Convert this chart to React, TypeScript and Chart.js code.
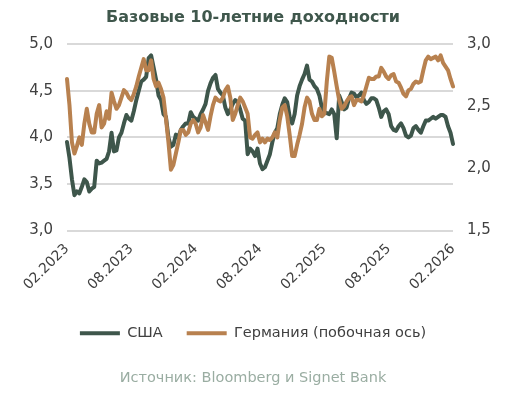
import { useEffect, useRef } from "react";
import { Chart, registerables } from "chart.js";

Chart.register(...registerables);

const xTickLabels = ["02.2023", "08.2023", "02.2024", "08.2024", "02.2025", "08.2025", "02.2026"];

const usYield = [
  3.95, 3.78, 3.55, 3.38, 3.42, 3.40, 3.47, 3.55, 3.52, 3.42,
  3.45, 3.47, 3.75, 3.72, 3.73, 3.75, 3.77, 3.85, 4.05, 3.85,
  3.86, 4.00, 4.05, 4.15, 4.24, 4.20, 4.18, 4.28, 4.40, 4.50,
  4.60, 4.62, 4.65, 4.85, 4.88, 4.75, 4.62, 4.45, 4.40, 4.25,
  4.22, 4.00, 3.90, 3.92, 4.03, 4.00, 4.08, 4.12, 4.15, 4.15,
  4.27, 4.22, 4.20, 4.18, 4.25, 4.30, 4.36, 4.50, 4.58, 4.64,
  4.67, 4.52, 4.48, 4.45, 4.32, 4.25, 4.30, 4.36, 4.40, 4.38,
  4.30, 4.20, 4.18, 3.82, 3.88, 3.85, 3.80, 3.88, 3.72, 3.66,
  3.68, 3.75, 3.82, 3.95, 4.05, 4.10, 4.25, 4.35, 4.42, 4.38,
  4.22, 4.15, 4.25, 4.45, 4.55, 4.62, 4.68, 4.77, 4.62, 4.60,
  4.55, 4.52, 4.45, 4.32, 4.27, 4.26, 4.25, 4.30, 4.25, 3.99,
  4.45, 4.38, 4.30, 4.32, 4.42, 4.48, 4.47, 4.43, 4.45, 4.48,
  4.40, 4.36, 4.38, 4.42, 4.42, 4.40, 4.32, 4.22, 4.28, 4.30,
  4.25, 4.12, 4.08, 4.07, 4.12, 4.15, 4.10, 4.02, 4.00, 4.02,
  4.10, 4.12, 4.08, 4.05, 4.12, 4.18, 4.18, 4.20, 4.22, 4.20,
  4.22, 4.24, 4.24, 4.22, 4.12, 4.05, 3.93,
];

const deYield = [
  2.72, 2.51, 2.21, 2.12, 2.18, 2.25, 2.19, 2.36, 2.48, 2.36,
  2.29, 2.29, 2.44, 2.51, 2.33, 2.36, 2.46, 2.40, 2.61, 2.54,
  2.48, 2.51, 2.57, 2.63, 2.61, 2.57, 2.55, 2.60, 2.66, 2.74,
  2.81, 2.88, 2.79, 2.79, 2.87, 2.72, 2.66, 2.69, 2.64, 2.57,
  2.40, 2.21, 1.99, 2.03, 2.12, 2.21, 2.31, 2.31, 2.27, 2.29,
  2.36, 2.39, 2.36, 2.29, 2.33, 2.43, 2.37, 2.31, 2.42, 2.51,
  2.57, 2.55, 2.54, 2.57, 2.63, 2.66, 2.57, 2.39, 2.44, 2.51,
  2.57, 2.54, 2.49, 2.44, 2.25, 2.24, 2.27, 2.29, 2.21, 2.24,
  2.21, 2.24, 2.23, 2.25, 2.29, 2.25, 2.39, 2.49, 2.51, 2.42,
  2.27, 2.10, 2.10, 2.19, 2.27, 2.36, 2.49, 2.57, 2.54, 2.44,
  2.39, 2.39, 2.48, 2.42, 2.44, 2.70, 2.90, 2.89, 2.78, 2.66,
  2.55, 2.48, 2.50, 2.54, 2.57, 2.58, 2.51, 2.55, 2.55, 2.54,
  2.59, 2.66, 2.73, 2.72, 2.72, 2.74, 2.74, 2.81, 2.78, 2.74,
  2.72, 2.75, 2.76, 2.70, 2.69, 2.65, 2.60, 2.58, 2.63, 2.64,
  2.68, 2.70, 2.69, 2.70, 2.79, 2.87, 2.90, 2.88, 2.89, 2.90,
  2.87, 2.91, 2.85, 2.82, 2.79, 2.72, 2.66,
];

const weekIndex = usYield.map((_, i) => String(i));
const WEEKS_PER_TICK = 26;

const US_COLOR = "#3e564b";
const DE_COLOR = "#b8814f";
const FONT = "'DejaVu Sans', sans-serif";

export default function App() {
  const canvasRef = useRef<HTMLCanvasElement | null>(null);

  useEffect(() => {
    if (!canvasRef.current) return;
    const fmt = (v: any) => Number(v).toFixed(1).replace(".", ",");
    const chart = new Chart(canvasRef.current, {
      type: "line",
      data: {
        labels: weekIndex,
        datasets: [
          {
            label: "США",
            data: usYield,
            borderColor: US_COLOR,
            backgroundColor: US_COLOR,
            borderWidth: 4,
            borderCapStyle: "round",
            borderJoinStyle: "round",
            pointRadius: 0,
            tension: 0,
            yAxisID: "y",
            order: 2,
          },
          {
            label: "Германия (побочная ось)",
            data: deYield,
            borderColor: DE_COLOR,
            backgroundColor: DE_COLOR,
            borderWidth: 4,
            borderCapStyle: "round",
            borderJoinStyle: "round",
            pointRadius: 0,
            tension: 0,
            yAxisID: "y1",
            order: 1,
          },
        ],
      },
      options: {
        animation: false,
        responsive: true,
        maintainAspectRatio: false,
        layout: { padding: 0 },
        plugins: {
          title: {
            display: true,
            text: "Базовые 10-летние доходности",
            color: "#3f574c",
            font: { family: FONT, size: 16, weight: "bold" },
            padding: { top: 8, bottom: 17 },
          },
          legend: {
            display: true,
            position: "bottom",
            reverse: true,
            labels: {
              usePointStyle: true,
              pointStyle: "line",
              pointStyleWidth: 40,
              boxWidth: 40,
              padding: 24,
              color: "#404040",
              font: { family: FONT, size: 14.5 },
            },
          },
          subtitle: {
            display: true,
            position: "bottom",
            text: "Источник: Bloomberg и Signet Bank",
            color: "#9aada2",
            font: { family: FONT, size: 14.5 },
            padding: { top: 19, bottom: 10 },
          },
          tooltip: { enabled: false },
        },
        scales: {
          x: {
            type: "category",
            grid: { display: false, drawTicks: false },
            border: { display: false },
            ticks: {
              autoSkip: false,
              maxRotation: 45,
              minRotation: 45,
              padding: 10,
              color: "#404040",
              font: { family: FONT, size: 14 },
              callback: (_v: any, idx: number) =>
                idx % WEEKS_PER_TICK === 0 ? xTickLabels[idx / WEEKS_PER_TICK] : null,
            },
            afterFit: (s: any) => {
              s.height = 71.5;
            },
          },
          y: {
            position: "left",
            min: 3,
            max: 5,
            grid: { color: "#d9d9d9", lineWidth: 2, drawTicks: false },
            border: { display: false },
            ticks: {
              stepSize: 0.5,
              padding: 14,
              color: "#404040",
              font: { family: FONT, size: 15 },
              callback: fmt,
            },
            afterFit: (s: any) => {
              s.width = 67;
            },
          },
          y1: {
            position: "right",
            min: 1.5,
            max: 3,
            grid: { drawOnChartArea: false, drawTicks: false },
            border: { display: false },
            ticks: {
              stepSize: 0.5,
              padding: 14,
              color: "#404040",
              font: { family: FONT, size: 15 },
              callback: fmt,
            },
            afterFit: (s: any) => {
              s.width = 53;
            },
          },
        },
      },
    });
    return () => chart.destroy();
  }, []);

  return (
    <div style={{ position: "absolute", left: 0, top: 0, width: 506, height: 397, background: "#fff" }}>
      <canvas ref={canvasRef} />
    </div>
  );
}
